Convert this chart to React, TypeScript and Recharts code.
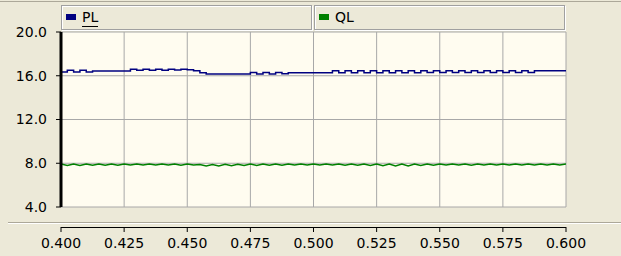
import React from 'react';
import { LineChart, Line, XAxis, YAxis, CartesianGrid } from 'recharts';

const times: number[] = [
  0.4, 0.4025, 0.405, 0.4075, 0.41, 0.4125, 0.415, 0.4175, 0.42, 0.4225,
  0.425, 0.4275, 0.43, 0.4325, 0.435, 0.4375, 0.44, 0.4425, 0.445, 0.4475,
  0.45, 0.4525, 0.455, 0.4575, 0.46, 0.4625, 0.465, 0.4675, 0.47, 0.4725,
  0.475, 0.4775, 0.48, 0.4825, 0.485, 0.4875, 0.49, 0.4925, 0.495, 0.4975,
  0.5, 0.5025, 0.505, 0.5075, 0.51, 0.5125, 0.515, 0.5175, 0.52, 0.5225,
  0.525, 0.5275, 0.53, 0.5325, 0.535, 0.5375, 0.54, 0.5425, 0.545, 0.5475,
  0.55, 0.5525, 0.555, 0.5575, 0.56, 0.5625, 0.565, 0.5675, 0.57, 0.5725,
  0.575, 0.5775, 0.58, 0.5825, 0.585, 0.5875, 0.59, 0.5925, 0.595, 0.5975,
  0.6,
];

const plValues: number[] = [
  16.35, 16.5, 16.35, 16.5, 16.35, 16.43, 16.43, 16.43, 16.43, 16.43,
  16.43, 16.6, 16.5, 16.6, 16.5, 16.6, 16.5, 16.6, 16.52, 16.6,
  16.55, 16.45, 16.28, 16.15, 16.15, 16.15, 16.15, 16.15, 16.15, 16.15,
  16.3, 16.15, 16.3, 16.15, 16.3, 16.18, 16.28, 16.28, 16.28, 16.28,
  16.28, 16.28, 16.28, 16.46, 16.28, 16.46, 16.28, 16.46, 16.28, 16.46,
  16.28, 16.46, 16.28, 16.46, 16.28, 16.46, 16.28, 16.46, 16.3, 16.46,
  16.3, 16.46, 16.3, 16.46, 16.3, 16.46, 16.3, 16.46, 16.3, 16.46,
  16.3, 16.46, 16.3, 16.46, 16.3, 16.46, 16.46, 16.46, 16.46, 16.46,
  16.46,
];

const qlValues: number[] = [
  7.93, 7.8, 7.93, 7.8, 7.93, 7.82, 7.93, 7.82, 7.93, 7.82,
  7.93, 7.84, 7.93, 7.84, 7.93, 7.84, 7.93, 7.84, 7.93, 7.82,
  7.93, 7.84, 7.88, 7.76, 7.88, 7.76, 7.9, 7.78, 7.9, 7.8,
  7.93, 7.8, 7.93, 7.82, 7.93, 7.82, 7.93, 7.84, 7.93, 7.84,
  7.93, 7.84, 7.93, 7.84, 7.93, 7.82, 7.93, 7.82, 7.93, 7.8,
  7.93, 7.78, 7.93, 7.76, 7.93, 7.76, 7.93, 7.8, 7.93, 7.82,
  7.93, 7.84, 7.93, 7.84, 7.93, 7.82, 7.93, 7.84, 7.93, 7.84,
  7.93, 7.84, 7.93, 7.84, 7.93, 7.84, 7.93, 7.84, 7.93, 7.84,
  7.93,
];

const xTicks: number[] = [0.4, 0.425, 0.45, 0.475, 0.5, 0.525, 0.55, 0.575, 0.6];
const yTicks: number[] = [4, 8, 12, 16, 20];

const seriesNames = ['PL', 'QL'];
const seriesColors = ['#000080', '#008000'];

const data = times.map((t, i) => ({ t, PL: plValues[i], QL: qlValues[i] }));

const W = 621;
const H = 256;
const Y_AXIS_W = 61;
const RIGHT = 55;
const TOP = 32;
const X_AXIS_H = 49;
const PLOT_W = W - Y_AXIS_W - RIGHT;
const FONT = '"DejaVu Sans", Verdana, sans-serif';

const XTick = (props: any) => {
  const { x, y, payload, index } = props;
  return (
    <g>
      {index === 0 && (
        <line x1={x} x2={x + PLOT_W} y1={y + 20.5} y2={y + 20.5} stroke="#000" strokeWidth={1} />
      )}
      <line x1={x} x2={x} y1={y + 20} y2={y + 25} stroke="#000" strokeWidth={1} />
      <text
        x={x}
        y={y + 36}
        textAnchor="middle"
        dominantBaseline="central"
        fontSize={14}
        fontFamily={FONT}
        fill="#000"
      >
        {Number(payload.value).toFixed(3)}
      </text>
    </g>
  );
};

const legendBoxes = [
  { left: 61, width: 251 },
  { left: 314, width: 251 },
];

export default function App() {
  return (
    <div
      style={{
        position: 'absolute',
        left: 0,
        top: 0,
        width: W,
        height: H,
        background: '#ECE9D8',
        overflow: 'hidden',
        fontFamily: FONT,
      }}
    >
      <div style={{ position: 'absolute', left: 0, top: 1, width: W, height: 1, background: '#ACA899' }} />
      <div style={{ position: 'absolute', left: 8, top: 222, width: W - 8, height: 1, background: '#ACA899' }} />
      <div style={{ position: 'absolute', left: 8, top: 223, width: W - 8, height: 1, background: '#FFFFFF' }} />
      <LineChart
        width={W}
        height={H}
        data={data}
        margin={{ top: TOP, right: RIGHT, bottom: 0, left: 0 }}
        style={{ position: 'absolute', left: 0, top: 0 }}
      >
        <CartesianGrid stroke="#A8A8A8" strokeWidth={1} fill="#FFFCF0" />
        <XAxis
          dataKey="t"
          type="number"
          domain={[0.4, 0.6]}
          ticks={xTicks}
          interval={0}
          height={X_AXIS_H}
          axisLine={false}
          tickLine={false}
          tickSize={0}
          tickMargin={0}
          tick={<XTick />}
          allowDataOverflow
        />
        <YAxis
          type="number"
          domain={[4, 20]}
          ticks={yTicks}
          interval={0}
          width={Y_AXIS_W}
          axisLine={{ stroke: '#000', strokeWidth: 3 }}
          tickLine={{ stroke: '#000', strokeWidth: 1 }}
          tickSize={5}
          tickMargin={9}
          tick={{ fill: '#000', fontSize: 14, fontFamily: FONT }}
          tickFormatter={(v: number) => v.toFixed(1)}
          allowDataOverflow
        />
        <Line
          type="stepAfter"
          dataKey="PL"
          stroke={seriesColors[0]}
          strokeWidth={1.5}
          dot={false}
          isAnimationActive={false}
        />
        <Line
          type="linear"
          dataKey="QL"
          stroke={seriesColors[1]}
          strokeWidth={1.5}
          dot={false}
          isAnimationActive={false}
        />
      </LineChart>
      {seriesNames.map((name, i) => (
        <div
          key={name}
          style={{
            position: 'absolute',
            left: legendBoxes[i].left,
            top: 5,
            width: legendBoxes[i].width - 2,
            height: 23,
            border: '1px solid #A0A0A0',
            boxShadow: 'inset 1px 1px 0 #FFFFFF, 1px 1px 0 #FFFFFF',
            background: '#ECE9D8',
          }}
        >
          <div
            style={{
              position: 'absolute',
              left: 4,
              top: 8,
              width: 10,
              height: 6,
              background: seriesColors[i],
            }}
          />
          <span
            style={{
              position: 'absolute',
              left: 20,
              top: 2,
              fontSize: 14,
              lineHeight: '18px',
              color: '#000',
              borderBottom: i === 0 ? '1px solid #000' : 'none',
            }}
          >
            {name}
          </span>
        </div>
      ))}
    </div>
  );
}
